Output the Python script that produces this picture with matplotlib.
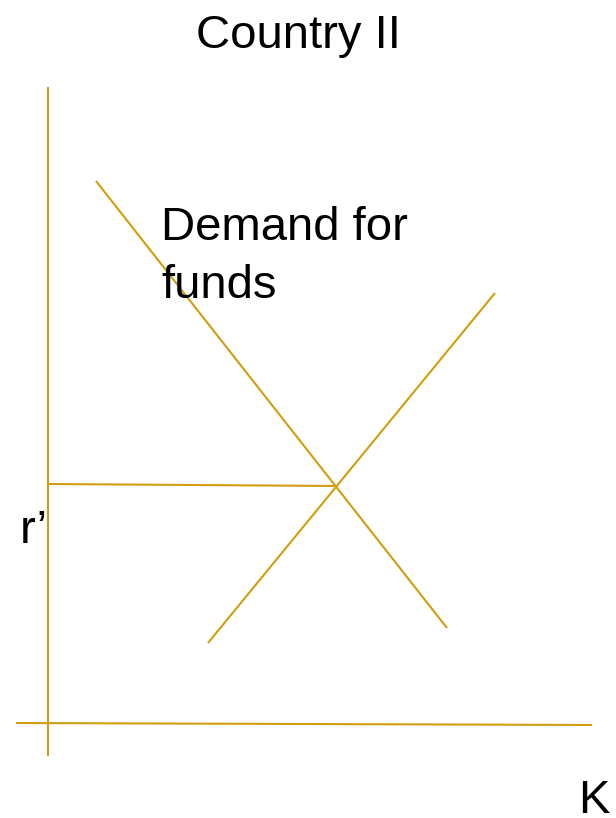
import matplotlib.pyplot as plt

# diagram coordinates (picture pixels, y measured downwards)
demand_x = [96, 447]
demand_y = [181, 628]
supply_x = [208, 495]
supply_y = [643, 293]
rate_x = [48, 338]
rate_y = [484, 486]
vaxis_x = [48, 48]
vaxis_y = [87, 756]
haxis_x = [16, 592]
haxis_y = [723, 725]

title = "Country II"
demand_label = ["Demand for", "funds"]
rate_label = "r\u2019"
axis_label = "K"

gold = '#D09E0E'

plt.rcParams['font.family'] = ['Liberation Sans', 'DejaVu Sans']

fig = plt.figure(figsize=(6.16, 8.18), dpi=100)
ax = fig.add_axes([0, 0, 1, 1])
ax.set_xlim(0, 616)
ax.set_ylim(818, 0)
ax.axis('off')

for xs, ys in [(vaxis_x, vaxis_y), (haxis_x, haxis_y), (demand_x, demand_y),
               (supply_x, supply_y), (rate_x, rate_y)]:
    ax.plot(xs, ys, color=gold, lw=1.5, solid_capstyle='butt')

ax.text(298, 48, title, fontsize=34, ha='center', va='baseline')
ax.text(161, 240, demand_label[0], fontsize=34, ha='left', va='baseline')
ax.text(161, 298, demand_label[1], fontsize=34, ha='left', va='baseline')
ax.text(20, 543, rate_label, fontsize=34, ha='left', va='baseline')
ax.text(578, 813, axis_label, fontsize=34, ha='left', va='baseline')

fig.savefig('out.png', dpi=100)
